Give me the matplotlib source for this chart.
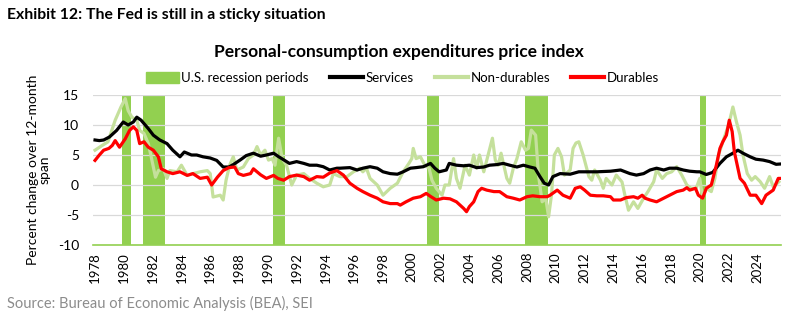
import matplotlib
matplotlib.use("Agg")
import matplotlib.pyplot as plt
from matplotlib.patches import Patch

plt.rcParams['font.family'] = ['Lato', 'DejaVu Sans']
plt.rcParams['axes.unicode_minus'] = False

# recession periods (start, end), decimal years
recessions = [(1979.85, 1980.5), (1981.35, 1982.85), (1990.35, 1991.2),
              (2001.05, 2001.9), (2007.85, 2009.45), (2020.0, 2020.4)]

# PCE services, % change over 12 months
svc_year = [1978.0, 1978.3, 1978.6, 1979.0, 1979.5, 1979.96, 1980.3, 1980.66, 1980.9, 1981.2,
            1981.7, 1982.05, 1982.5, 1983.0, 1983.4, 1983.9, 1984.2, 1984.7, 1985.06, 1985.5,
            1986.0, 1986.45, 1986.9, 1987.3, 1987.6, 1988.1, 1988.5, 1989.0, 1989.5, 1989.9,
            1990.4, 1990.7, 1991.1, 1991.5, 1992.0, 1992.5, 1992.9, 1993.4, 1993.85, 1994.3,
            1994.8, 1995.0, 1995.7, 1996.2, 1996.6, 1997.1, 1997.6, 1998.0, 1998.5, 1999.0,
            1999.4, 1999.9, 2000.3, 2000.8, 2001.3, 2001.6, 2001.9, 2002.4, 2002.6, 2003.1,
            2003.6, 2004.0, 2004.5, 2005.0, 2005.4, 2005.9, 2006.35, 2006.8, 2007.3, 2007.75,
            2008.2, 2008.55, 2008.9, 2009.2, 2009.5, 2009.8, 2010.3, 2011.0, 2011.6, 2011.9,
            2012.85, 2013.8, 2014.5, 2015.15, 2015.6, 2016.1, 2016.55, 2017.0, 2017.5, 2017.9,
            2018.4, 2018.85, 2019.3, 2019.8, 2020.0, 2020.45, 2020.9, 2021.4, 2021.85, 2022.3,
            2022.65, 2023.0, 2023.5, 2023.9, 2024.4, 2024.85, 2025.3, 2025.6]
svc_pct = [7.5, 7.4, 7.5, 8.0, 9.1, 10.5, 10.0, 10.5, 11.3, 10.8,
           9.4, 8.3, 7.5, 6.9, 5.8, 4.7, 5.5, 5.0, 5.0, 4.7,
           4.5, 4.1, 3.0, 3.0, 3.4, 4.2, 4.9, 5.3, 4.8, 5.0,
           5.3, 4.8, 4.2, 3.6, 3.9, 3.6, 3.3, 3.3, 3.05, 2.5,
           2.8, 2.8, 2.9, 2.5, 2.8, 3.05, 2.8, 2.2, 1.9, 1.8,
           2.2, 2.8, 2.9, 3.05, 3.6, 2.8, 2.2, 2.5, 3.6, 3.3,
           3.2, 3.3, 2.9, 3.0, 3.3, 3.4, 3.6, 3.3, 3.0, 3.3,
           3.0, 2.8, 1.4, 0.3, 0.0, 1.4, 1.9, 1.8, 2.2, 2.2,
           2.2, 2.3, 2.5, 1.9, 1.65, 1.9, 2.5, 2.8, 2.5, 2.8,
           2.8, 2.5, 2.3, 2.2, 2.2, 1.75, 2.1, 3.6, 4.7, 5.3,
           5.8, 5.3, 4.7, 4.3, 4.15, 3.9, 3.45, 3.5]

# PCE non-durable goods
nd_year = [1978.0, 1978.5, 1978.9, 1979.4, 1979.8, 1980.1, 1980.3, 1980.56, 1980.9, 1981.1,
           1981.4, 1981.7, 1981.9, 1982.2, 1982.4, 1982.75, 1983.0, 1983.2, 1983.7, 1984.0,
           1984.4, 1984.8, 1985.3, 1985.8, 1986.0, 1986.2, 1986.7, 1986.9, 1987.1, 1987.35,
           1987.6, 1987.85, 1988.3, 1988.65, 1989.0, 1989.25, 1989.5, 1989.8, 1990.05, 1990.3,
           1990.5, 1990.75, 1991.0, 1991.3, 1991.66, 1992.0, 1992.5, 1992.9, 1993.4, 1993.85,
           1994.3, 1994.55, 1995.0, 1995.5, 1995.95, 1996.4, 1996.6, 1996.85, 1997.1, 1997.6,
           1998.0, 1998.5, 1999.0, 1999.4, 1999.8, 2000.0, 2000.1, 2000.3, 2000.6, 2000.9,
           2001.2, 2001.4, 2001.7, 2002.1, 2002.3, 2002.6, 2002.9, 2003.1, 2003.35, 2003.7,
           2004.0, 2004.3, 2004.5, 2004.7, 2005.0, 2005.3, 2005.6, 2005.8, 2006.0, 2006.2,
           2006.6, 2006.8, 2007.05, 2007.3, 2007.6, 2007.9, 2008.1, 2008.3, 2008.6, 2008.8,
           2009.05, 2009.3, 2009.5, 2009.7, 2009.9, 2010.15, 2010.4, 2010.6, 2011.0, 2011.2,
           2011.4, 2011.6, 2011.9, 2012.3, 2012.5, 2012.7, 2013.1, 2013.3, 2013.5, 2013.9,
           2014.2, 2014.6, 2014.8, 2015.05, 2015.4, 2015.7, 2016.1, 2016.4, 2016.8, 2017.0,
           2017.4, 2017.7, 2018.05, 2018.4, 2018.75, 2019.1, 2019.4, 2019.75, 2020.0, 2020.2,
           2020.45, 2020.8, 2021.05, 2021.3, 2021.6, 2022.0, 2022.3, 2022.55, 2022.8, 2023.0,
           2023.3, 2023.6, 2023.85, 2024.2, 2024.5, 2024.85, 2025.1, 2025.5]
nd_pct = [5.8, 6.6, 7.2, 10.8, 13.0, 14.4, 12.4, 11.3, 10.8, 9.1,
          8.6, 6.9, 4.7, 1.3, 2.4, 2.7, 1.1, 2.4, 2.2, 3.3,
          1.6, 1.9, 2.2, 2.4, 1.9, -2.0, -1.7, -2.5, 0.8, 3.3,
          4.7, 2.5, 3.0, 4.4, 5.0, 6.4, 5.0, 5.8, 4.15, 4.4,
          3.3, 7.8, 4.4, 3.3, 0.0, 1.65, 1.9, 1.1, 0.3, -0.3,
          0.0, 1.9, 1.4, 1.4, 2.2, 2.8, 2.2, 2.8, 1.1, 0.0,
          -1.7, -0.55, 0.3, 2.2, 3.6, 4.4, 6.1, 4.4, 4.7, 3.3,
          2.8, 0.8, -0.55, -1.7, 0.0, 0.0, 4.4, 1.1, -0.55, 3.3,
          1.65, 5.0, 2.8, 5.0, 2.2, 5.0, 7.8, 4.15, 3.3, 5.3,
          1.1, 0.3, 2.8, 4.4, 7.2, 5.8, 6.1, 9.15, 8.3, 1.65,
          -2.8, -2.2, -5.3, -1.7, 5.0, 6.1, 4.7, 1.65, 2.5, 6.1,
          7.0, 7.2, 5.0, 1.4, 0.8, 2.5, 0.8, -0.55, 1.1, 0.0,
          1.65, 0.5, -1.7, -4.2, -2.8, -3.9, -2.2, -1.1, 0.55, 2.5,
          1.1, 1.9, 2.2, 3.05, 1.65, 0.0, -0.55, -0.55, 1.1, -2.2,
          -0.55, -1.1, 1.1, 5.0, 7.2, 10.0, 13.0, 10.5, 8.3, 5.0,
          1.9, 0.8, 1.4, 0.55, -0.55, 1.4, -0.3, 0.55]

# PCE durable goods
dur_year = [1978.0, 1978.3, 1978.6, 1978.96, 1979.2, 1979.4, 1979.7, 1980.1, 1980.4, 1980.66,
            1980.9, 1981.1, 1981.4, 1981.7, 1982.05, 1982.4, 1982.6, 1983.0, 1983.4, 1983.9,
            1984.4, 1984.8, 1985.3, 1985.8, 1986.1, 1986.5, 1986.9, 1987.3, 1987.7, 1987.95,
            1988.3, 1988.8, 1989.0, 1989.5, 1989.9, 1990.4, 1990.7, 1991.1, 1991.5, 1992.0,
            1992.5, 1992.9, 1993.4, 1993.85, 1994.3, 1994.8, 1995.25, 1995.7, 1996.2, 1996.6,
            1997.1, 1997.6, 1998.0, 1998.5, 1999.0, 1999.2, 1999.6, 2000.1, 2000.6, 2001.0,
            2001.3, 2001.7, 2002.2, 2002.65, 2003.1, 2003.6, 2003.8, 2004.0, 2004.3, 2004.6,
            2004.85, 2005.2, 2005.7, 2006.1, 2006.6, 2007.05, 2007.5, 2008.0, 2008.4, 2008.9,
            2009.4, 2009.6, 2010.1, 2010.5, 2011.0, 2011.35, 2011.7, 2012.0, 2012.4, 2012.85,
            2013.3, 2013.8, 2014.0, 2014.5, 2014.9, 2015.4, 2015.7, 2016.0, 2016.2, 2016.55,
            2017.0, 2017.5, 2017.9, 2018.4, 2018.85, 2019.1, 2019.3, 2019.7, 2019.9, 2020.2,
            2020.45, 2020.8, 2021.15, 2021.4, 2021.6, 2021.85, 2022.05, 2022.25, 2022.4, 2022.8,
            2023.1, 2023.5, 2023.9, 2024.3, 2024.6, 2025.1, 2025.45, 2025.65]
dur_pct = [4.1, 5.0, 5.8, 6.1, 6.6, 7.4, 6.3, 7.7, 9.1, 9.7,
           9.1, 6.9, 7.2, 6.3, 5.8, 4.7, 2.7, 2.2, 1.9, 2.2,
           1.6, 1.9, 1.1, 1.3, 0.0, 1.3, 2.4, 2.9, 3.0, 1.9,
           1.6, 1.9, 2.7, 1.7, 1.1, 1.6, 1.1, 0.8, 1.4, 1.65,
           1.4, 0.8, 1.4, 1.3, 2.0, 2.4, 1.65, 0.3, -0.55, -1.1,
           -1.7, -2.2, -2.8, -3.1, -3.1, -3.35, -2.8, -2.2, -1.95, -1.4,
           -1.9, -2.5, -2.2, -2.3, -2.8, -3.9, -4.45, -3.6, -2.8, -1.1,
           -0.55, -0.85, -1.1, -1.1, -1.95, -2.2, -2.5, -1.95, -1.8, -1.95,
           -1.95, -1.7, -0.85, -1.7, -2.2, -0.55, -0.3, -0.85, -1.7, -1.8,
           -1.8, -1.95, -2.5, -2.5, -2.1, -1.95, -2.2, -1.7, -2.2, -2.5,
           -2.8, -2.2, -1.7, -1.1, -0.85, -0.45, -0.85, -0.55, -1.7, -2.2,
           -0.55, 0.0, 3.3, 6.1, 7.2, 8.3, 10.8, 8.9, 5.55, 1.1,
           0.3, -1.7, -1.7, -3.1, -1.7, -0.85, 1.1, 1.1]

tick_years = list(range(1978, 2025, 2))

rec_green = '#92D050'
nd_green = '#C5E09C'

fig = plt.figure(figsize=(7.97, 3.24), dpi=100)
ax = fig.add_axes([0.1167, 0.2438, 0.8632, 0.463])

for start, end in recessions:
    ax.axvspan(start, end, color=rec_green, lw=0, zorder=1)

ax.plot(svc_year, svc_pct, color='black', lw=2.3, zorder=3)
ax.plot(nd_year, nd_pct, color=nd_green, lw=2.3, zorder=2)
ax.plot(dur_year, dur_pct, color='#FF0000', lw=2.3, zorder=4)

ax.set_xlim(1977.86, 2025.64)
ax.set_ylim(-10, 15)
ax.set_yticks(range(-10, 16, 5))
ax.set_xticks(tick_years)
ax.set_xticklabels([str(y) for y in tick_years], rotation=90, fontsize=9.5)
ax.tick_params(axis='y', labelsize=10, length=0, pad=10)
ax.tick_params(axis='x', length=0, pad=5)
ax.grid(axis='y', color='#D9D9D9', lw=0.9, zorder=0)
for side in ['top', 'right', 'left']:
    ax.spines[side].set_visible(False)
ax.spines['bottom'].set_color(rec_green)
ax.spines['bottom'].set_linewidth(1.2)
ax.set_ylabel('Percent change over 12-month\nspan', fontsize=10, linespacing=1.0, labelpad=5)

handles = [Patch(color=rec_green, label='U.S. recession periods'),
           plt.Line2D([], [], color='black', lw=3, label='Services'),
           plt.Line2D([], [], color=nd_green, lw=3, label='Non-durables'),
           plt.Line2D([], [], color='#FF0000', lw=3, label='Durables')]
fig.legend(handles=handles, loc='center', bbox_to_anchor=(0.505, 0.758), ncol=4,
           frameon=False, fontsize=9.5, handlelength=2.5, handleheight=0.9,
           handletextpad=0.2, columnspacing=1.6)

fig.text(0.009, 0.953, 'Exhibit 12: The Fed is still in a sticky situation',
         fontsize=11.3, fontweight='bold', va='center')
fig.text(0.5, 0.838, 'Personal-consumption expenditures price index',
         fontsize=12.5, fontweight='bold', ha='center', va='center')
fig.text(0.009, 0.062, 'Source: Bureau of Economic Analysis (BEA), SEI',
         fontsize=10.5, color='#8C8C8C', va='center')

fig.savefig('out.png', dpi=100)
